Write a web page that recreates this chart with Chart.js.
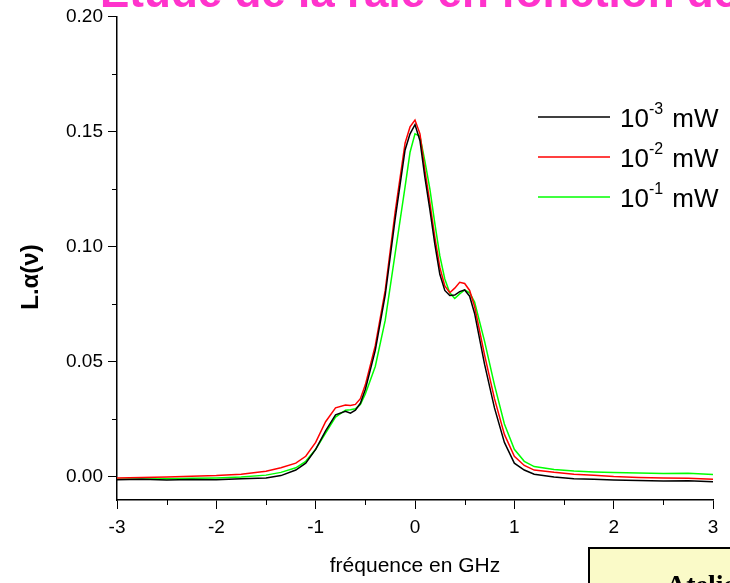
<!DOCTYPE html>
<html>
<head>
<meta charset="utf-8">
<script src="https://cdn.jsdelivr.net/npm/chart.js@4"></script>
<style>
  html, body { margin: 0; padding: 0; background: #fff; }
  #wrap { width: 730px; height: 583px; position: relative; }
</style>
</head>
<body>
<div id="wrap"><canvas id="myChart" width="730" height="583"></canvas></div>
<script>
// frequency grid (GHz) shared by the three curves
const freq = [-3, -2.75, -2.5, -2.25, -2, -1.75, -1.5, -1.35, -1.2, -1.1, -1.0, -0.9, -0.8, -0.7, -0.65, -0.6, -0.55, -0.5, -0.4, -0.3,
  -0.2, -0.1, -0.05, 0, 0.05, 0.1, 0.15, 0.2, 0.25, 0.3, 0.35, 0.4, 0.45, 0.5, 0.55, 0.6, 0.7, 0.8, 0.9, 1.0,
  1.1, 1.2, 1.4, 1.6, 1.8, 2.0, 2.25, 2.5, 2.75, 3.0];

// L.alpha(nu) for 1e-3 mW
const p1e3 = [-0.0012, -0.0010, -0.0013, -0.0011, -0.0012, -0.0008, -0.0004, 0.0006, 0.0030, 0.0060, 0.0120, 0.0200, 0.0270, 0.0285, 0.0277, 0.0290, 0.0320, 0.0380, 0.0550, 0.0790,
  0.1120, 0.1420, 0.1490, 0.1530, 0.1460, 0.1300, 0.1160, 0.1010, 0.0880, 0.0810, 0.0788, 0.0790, 0.0805, 0.0812, 0.0785, 0.0710, 0.0490, 0.0300, 0.0150, 0.0060,
  0.0030, 0.0012, 0.0000, -0.0008, -0.0010, -0.0013, -0.0015, -0.0017, -0.0016, -0.0021];

// 1e-2 mW
const p1e2 = [-0.0005, -0.0002, 0.0000, 0.0003, 0.0006, 0.0012, 0.0025, 0.0040, 0.0060, 0.0090, 0.0150, 0.0240, 0.0300, 0.0312, 0.0310, 0.0315, 0.0340, 0.0400, 0.0570, 0.0810,
  0.1150, 0.1450, 0.1520, 0.1550, 0.1490, 0.1330, 0.1190, 0.1040, 0.0910, 0.0830, 0.0800, 0.0820, 0.0845, 0.0840, 0.0810, 0.0740, 0.0530, 0.0340, 0.0185, 0.0090,
  0.0050, 0.0030, 0.0020, 0.0012, 0.0008, 0.0002, -0.0002, -0.0004, -0.0006, -0.0010];

// 1e-1 mW
const p1e1 = [-0.0010, -0.0009, -0.0008, -0.0006, -0.0004, 0.0000, 0.0008, 0.0020, 0.0040, 0.0068, 0.0120, 0.0190, 0.0260, 0.0290, 0.0292, 0.0296, 0.0315, 0.0360, 0.0480, 0.0680,
  0.0970, 0.1260, 0.1410, 0.1490, 0.1480, 0.1370, 0.1250, 0.1100, 0.0960, 0.0860, 0.0800, 0.0775, 0.0795, 0.0812, 0.0800, 0.0760, 0.0590, 0.0400, 0.0230, 0.0120,
  0.0068, 0.0045, 0.0032, 0.0026, 0.0022, 0.0019, 0.0017, 0.0015, 0.0016, 0.0011];

const seriesNames = ['-3', '-2', '-1']; // exponents shown in the legend
const seriesColors = ['#000000', '#ff0000', '#00ff00'];

const xTicks = [-3, -2, -1, 0, 1, 2, 3];
const xMinor = [-2.5, -1.5, -0.5, 0.5, 1.5, 2.5];
const yTicks = [0.00, 0.05, 0.10, 0.15, 0.20];
const yMinor = [0.025, 0.075, 0.125, 0.175];

const FONT = '"Liberation Sans", Arial, sans-serif';

const toPoints = vals => freq.map((f, i) => ({ x: f, y: vals[i] }));

// minor ticks, axis titles, legend, cut-off slide title and box
const decorations = {
  id: 'decorations',
  afterDraw(chart) {
    const ctx = chart.ctx;
    const xs = chart.scales.x, ys = chart.scales.y;
    ctx.save();
    ctx.strokeStyle = '#000';
    ctx.lineWidth = 1;
    ctx.beginPath();
    xMinor.forEach(v => {
      const px = Math.round(xs.getPixelForValue(v)) + 0.5;
      ctx.moveTo(px, ys.bottom); ctx.lineTo(px, ys.bottom + 5);
    });
    yMinor.forEach(v => {
      const py = Math.round(ys.getPixelForValue(v)) + 0.5;
      ctx.moveTo(xs.left - 5, py); ctx.lineTo(xs.left, py);
    });
    ctx.stroke();

    // x title
    ctx.fillStyle = '#000';
    ctx.font = '21px ' + FONT;
    ctx.textAlign = 'center';
    ctx.textBaseline = 'middle';
    ctx.fillText('fréquence en GHz', (xs.left + xs.right) / 2, 566);

    // y title
    ctx.save();
    ctx.translate(31, 277);
    ctx.rotate(-Math.PI / 2);
    ctx.font = 'bold 24px ' + FONT;
    ctx.fillText('L.α(ν)', 0, 0);
    ctx.restore();

    // legend
    const legY = [117, 157, 197];
    ctx.textBaseline = 'alphabetic';
    ctx.textAlign = 'left';
    seriesNames.forEach((e, i) => {
      ctx.strokeStyle = seriesColors[i];
      ctx.lineWidth = 1.5;
      ctx.beginPath();
      ctx.moveTo(538, legY[i]); ctx.lineTo(610, legY[i]);
      ctx.stroke();
      ctx.fillStyle = '#000';
      ctx.font = '26px ' + FONT;
      ctx.fillText('10', 620, legY[i] + 10);
      const w = ctx.measureText('10').width;
      ctx.font = '16px ' + FONT;
      ctx.fillText(e, 620 + w, legY[i] - 3);
      const w2 = ctx.measureText(e).width;
      ctx.font = '26px ' + FONT;
      ctx.fillText(' mW', 620 + w + w2 + 2, legY[i] + 10);
    });

    // slide title, cut by the top edge
    ctx.fillStyle = '#ff33cc';
    ctx.font = 'bold 44px ' + FONT;
    ctx.fillText('Étude de la raie en fonction de la puissance', 100, 7);

    // yellow box bottom right
    ctx.fillStyle = '#fafac8';
    ctx.fillRect(589, 548, 150, 40);
    ctx.strokeStyle = '#000';
    ctx.lineWidth = 2;
    ctx.strokeRect(589, 548, 150, 40);
    ctx.fillStyle = '#000';
    ctx.font = 'bold 28px "Liberation Serif", "Times New Roman", serif';
    ctx.fillText('Atelier', 666, 594);
    ctx.restore();
  }
};

const ctx = document.getElementById('myChart');
new Chart(ctx, {
  type: 'line',
  data: {
    datasets: [0, 1, 2].map(i => ({
      label: '10^' + seriesNames[i] + ' mW',
      data: toPoints([p1e3, p1e2, p1e1][i]),
      borderColor: seriesColors[i],
      borderWidth: 1.5,
      pointRadius: 0,
      tension: 0,
      fill: false
    }))
  },
  options: {
    responsive: false,
    animation: false,
    layout: { padding: { top: 15, right: 17, left: 0, bottom: 0 } },
    plugins: { legend: { display: false }, tooltip: { enabled: false } },
    scales: {
      x: {
        type: 'linear',
        min: -3, max: 3,
        afterFit: s => { s.height = 83; },
        afterBuildTicks: s => { s.ticks = xTicks.map(v => ({ value: v })); },
        grid: { drawOnChartArea: false, drawTicks: true, tickLength: 9, color: '#000', tickColor: '#000' },
        border: { display: true, color: '#000', width: 1.5 },
        ticks: { color: '#000', font: { family: FONT, size: 19 }, padding: 7, maxRotation: 0,
          callback: v => String(v) }
      },
      y: {
        type: 'linear',
        min: -0.01, max: 0.20,
        afterFit: s => { s.width = 117; },
        afterBuildTicks: s => { s.ticks = yTicks.map(v => ({ value: v })); },
        grid: { drawOnChartArea: false, drawTicks: true, tickLength: 9, color: '#000', tickColor: '#000' },
        border: { display: true, color: '#000', width: 1.5 },
        ticks: { color: '#000', font: { family: FONT, size: 19 }, padding: 5,
          callback: v => Number(v).toFixed(2) }
      }
    }
  },
  plugins: [decorations]
});
</script>
</body>
</html>
